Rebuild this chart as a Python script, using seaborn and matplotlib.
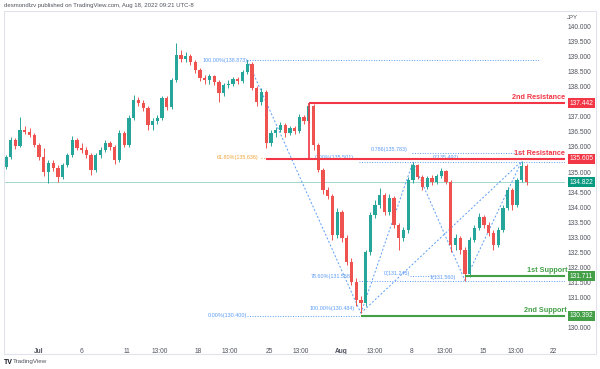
import numpy as np
import pandas as pd
import matplotlib
matplotlib.use("Agg")
import matplotlib.pyplot as plt
import seaborn as sns
from matplotlib.transforms import blended_transform_factory
from matplotlib.patches import Rectangle

# ---------------- data (USD/JPY) ----------------
first_open = 135.33
close = [135.66, 136.23, 136.03, 136.56, 136.49, 136.39, 136.06, 135.66, 135.16, 135.46,
         135.30, 135.00, 135.40, 135.73, 136.23, 135.96, 135.89, 135.73, 135.23, 135.73,
         135.89, 136.13, 135.99, 135.56, 136.46, 136.06, 136.95, 137.55, 137.45, 137.29,
         136.72, 136.85, 136.95, 137.62, 137.32, 138.21, 139.04, 138.91, 139.01, 138.81,
         138.55, 138.28, 138.21, 138.35, 138.15, 137.78, 138.05, 138.08, 138.25, 138.18,
         138.48, 138.74, 137.95, 137.48, 137.82, 136.13, 136.46, 136.56, 136.72, 136.46,
         136.62, 136.52, 136.99, 136.85, 137.35, 136.06, 135.23, 134.57, 134.37, 133.08,
         133.84, 132.98, 132.18, 131.52, 130.92, 130.82, 132.51, 133.74, 134.07, 134.40,
         133.84, 134.30, 133.41, 132.98, 133.24, 134.90, 135.40, 135.00, 134.67, 134.97,
         134.83, 135.03, 135.20, 134.83, 132.74, 132.98, 132.58, 131.78, 132.91, 133.31,
         133.67, 133.41, 133.14, 132.74, 133.24, 133.97, 134.57, 134.07, 134.90, 135.36,
         134.822]
high = [135.73, 136.32, 136.29, 136.99, 136.69, 136.62, 136.46, 136.13, 135.96, 135.56,
        135.56, 135.40, 135.46, 135.79, 136.36, 136.29, 136.13, 135.99, 135.79, 135.79,
        135.99, 136.23, 136.19, 136.06, 136.56, 136.52, 137.05, 137.72, 137.65, 137.55,
        137.35, 136.95, 137.05, 137.68, 137.68, 138.28, 139.44, 139.21, 139.14, 139.08,
        138.88, 138.61, 138.38, 138.41, 138.38, 138.21, 138.11, 138.21, 138.31, 138.31,
        138.55, 138.873, 138.81, 138.01, 137.95, 137.88, 136.56, 136.66, 136.82, 136.79,
        136.69, 136.69, 137.09, 137.05, 137.442, 137.42, 136.13, 135.30, 134.67, 134.43,
        133.97, 133.90, 133.08, 132.31, 131.65, 131.05, 132.58, 133.84, 134.24, 134.63,
        134.47, 134.43, 134.37, 133.47, 133.34, 135.00, 135.497, 135.43, 135.06, 135.03,
        135.06, 135.10, 135.30, 135.23, 134.90, 133.11, 133.04, 132.68, 133.01, 133.41,
        133.80, 133.74, 133.51, 133.24, 133.34, 134.07, 134.67, 134.63, 134.97, 135.53,
        135.43]
low = [135.26, 135.60, 135.93, 135.99, 136.42, 136.32, 135.99, 135.56, 135.03, 134.80,
       135.20, 134.83, 134.93, 135.33, 135.66, 135.89, 135.79, 135.63, 135.06, 135.16,
       135.63, 135.83, 135.89, 135.43, 135.50, 135.99, 135.99, 136.89, 137.35, 137.19,
       136.56, 136.56, 136.76, 136.89, 137.22, 137.25, 138.15, 138.81, 138.81, 138.71,
       138.45, 138.18, 138.08, 138.08, 138.05, 137.48, 137.68, 137.95, 138.01, 138.08,
       138.11, 138.41, 137.88, 137.35, 137.39, 135.96, 136.03, 136.32, 136.49, 136.32,
       136.39, 136.42, 136.46, 136.76, 136.79, 135.89, 135.16, 134.43, 134.27, 132.91,
       132.98, 132.84, 132.08, 131.42, 130.72, 130.484, 130.72, 132.41, 133.64, 133.97,
       133.74, 133.74, 133.31, 132.58, 132.88, 133.14, 134.80, 134.93, 134.57, 134.60,
       134.73, 134.77, 134.97, 134.77, 132.51, 132.58, 132.45, 131.56, 131.68, 132.84,
       133.24, 133.31, 133.04, 132.58, 132.68, 133.18, 133.90, 133.90, 134.00, 134.83,
       134.73]
bars_per_day = 3
first_bar_day = -7 / 3

tick_days = [0, 3.0, 6.2, 8.5, 11.2, 13.45, 16.2, 18.4, 21.25, 23.65, 26.25, 28.6, 31.25, 33.6, 36.2]
tick_labels = ["Jul", "6", "11", "13:00", "18", "13:00", "25", "13:00", "Aug",
               "13:00", "8", "13:00", "15", "13:00", "22"]
price_ticks = [130.0, 131.0, 131.5, 132.0, 132.5, 133.0, 133.5, 134.0, 134.5,
               135.0, 136.0, 136.5, 137.0, 138.0, 138.5, 139.0, 139.5, 140.0]

resistance_names = ["2nd Resistance", "1st Resistance"]
resistance_levels = [137.442, 135.605]
support_names = ["1st Support", "2nd Support"]
support_levels = [131.711, 130.392]
last_price = 134.822

fib1_levels = [138.873, 135.636, 130.400]
fib2_levels = [135.501, 131.558, 130.484]
pattern_levels = [135.783, 135.497, 131.245, 131.560]

# ---------------- style ----------------
sns.set_theme(style="white")
plt.rcParams['font.family'] = ['Liberation Sans', 'DejaVu Sans']

UP = '#26a69a'
DN = '#ef5350'
RED = '#f23645'
GRN = '#43a047'
BLUE = '#5b9cf6'
ORANGE = '#f0a43a'
TEAL = '#089981'

W, H = 600, 369
fig = plt.figure(figsize=(6, 3.69), dpi=100)
fig.patch.set_facecolor('white')

# outer frame
fig.add_artist(Rectangle((4 / W, 1 - 354 / H), 592 / W, 343 / H, transform=fig.transFigure,
                         fill=False, edgecolor='#e0e3eb', lw=0.8))

ax = fig.add_axes([4 / W, 1 - 340 / H, 561 / W, 329 / H])
ax.set_facecolor('none')
for s in ax.spines.values():
    s.set_visible(False)

df = pd.DataFrame({'open': [first_open] + close[:-1], 'close': close, 'high': high, 'low': low})
df['day'] = first_bar_day + np.arange(len(df)) / bars_per_day
df['up'] = df['close'] >= df['open']
df['color'] = np.where(df['up'], UP, DN)

ax.set_xlim(-2.465, 37.04)
ax.set_ylim(129.595, 140.50)

def px2day(p):
    return (p - 39) / 14.2

# current price line
ax.axhline(last_price, color='#9fd8cf', lw=0.7, zorder=1)

# wicks and bodies
ax.vlines(df['day'], df['low'], df['high'], colors=df['color'], lw=0.7, zorder=3)
body_h = np.maximum((df['close'] - df['open']).abs(), 0.02)
ax.bar(df['day'], body_h, bottom=np.minimum(df['open'], df['close']), width=0.23,
       color=df['color'], linewidth=0, zorder=4)

# anchor points from the candle data
A = (df['day'][51], df['high'][51])
B = (df['day'][75], df['low'][75])
C = (df['day'][86], df['high'][86])
D = (df['day'][97], df['low'][97])
E = (df['day'][109], df['high'][109])
right = px2day(565)
dots = (0, (1, 1.6))

trend = pd.DataFrame({
    'day': [A[0], B[0], B[0], C[0], C[0], D[0], D[0], E[0], B[0], E[0]],
    'price': [A[1], B[1], B[1], C[1], C[1], D[1], D[1], E[1], B[1], E[1]],
    'seg': [0, 0, 1, 1, 2, 2, 3, 3, 4, 4]})
for k, g in trend.groupby('seg'):
    sns.lineplot(data=g, x='day', y='price', ax=ax, color=BLUE, lw=0.7,
                 linestyle=(0, (2, 2)), zorder=2, sort=False)

# fib 1
ax.hlines(fib1_levels[0], A[0], px2day(540), colors=BLUE, lw=0.7, linestyles=dots, zorder=2)
ax.hlines(fib1_levels[1], px2day(261), df['day'][64], colors=ORANGE, lw=0.7, linestyles=dots, zorder=2)
ax.hlines(fib1_levels[2], A[0], B[0], colors=BLUE, lw=0.7, linestyles=dots, zorder=2)
fs_small = 3.9
ax.text(px2day(248), fib1_levels[0], "100.00%(138.873)", color=BLUE, fontsize=fs_small, ha='right', va='center')
ax.text(px2day(258), fib1_levels[1], "61.80%(135.636)", color=ORANGE, fontsize=fs_small, ha='right', va='center')
ax.text(px2day(247), fib1_levels[2], "0.00%(130.400)", color=BLUE, fontsize=fs_small, ha='right', va='center')

# fib 2
ax.hlines(fib2_levels[0], B[0] - 0.1, right, colors=BLUE, lw=0.7, linestyles=dots, zorder=2)
ax.hlines(fib2_levels[1], B[0] - 0.1, right, colors=BLUE, lw=0.7, linestyles=dots, zorder=2)
ax.text(px2day(354), fib2_levels[0] + 0.06, "0.00%(135.501)", color=BLUE, fontsize=fs_small, ha='right', va='bottom')
ax.text(px2day(352), fib2_levels[1] + 0.06, "78.60%(131.558)", color=BLUE, fontsize=fs_small, ha='right', va='bottom')
ax.text(px2day(355), fib2_levels[2] + 0.06, "100.00%(130.484)", color=BLUE, fontsize=fs_small, ha='right', va='bottom')

# pattern labels
ax.hlines(pattern_levels[0], px2day(412), px2day(523), colors=BLUE, lw=0.7, linestyles=dots, zorder=2)
ax.text(px2day(408), pattern_levels[0] + 0.06, "0.786(135.783)", color=BLUE, fontsize=fs_small, ha='right', va='bottom')
ax.text(px2day(446), pattern_levels[1] + 0.06, "0(135.497)", color=BLUE, fontsize=fs_small, ha='center', va='bottom')
ax.hlines(131.70, px2day(410), px2day(436), colors=BLUE, lw=0.7, linestyles=dots, zorder=2)
ax.text(px2day(397), 131.80, "0(131.245)", color=BLUE, fontsize=fs_small, ha='center', va='center')
ax.text(px2day(443), 131.66, "1(131.560)", color=BLUE, fontsize=fs_small, ha='center', va='center')

# resistance / support lines
ax.hlines(resistance_levels[0], df['day'][64], right, colors=RED, lw=1.5, zorder=5)
ax.vlines(df['day'][64], resistance_levels[1], resistance_levels[0], colors=RED, lw=1.2, zorder=5)
ax.hlines(resistance_levels[1], df['day'][55], right, colors=RED, lw=1.5, zorder=5)
ax.hlines(support_levels[0], D[0], right, colors=GRN, lw=1.5, zorder=5)
ax.hlines(support_levels[1], B[0], right, colors=GRN, lw=1.5, zorder=5)

fs_lab = 5.2
for name, lev in zip(resistance_names, resistance_levels):
    ax.text(right, lev + 0.07, name, color=RED, fontsize=fs_lab, fontweight='bold', ha='right', va='bottom', zorder=6)
for name, lev in zip(support_names, support_levels):
    ax.text(px2day(567), lev + 0.07, name, color=GRN, fontsize=fs_lab, fontweight='bold', ha='right', va='bottom', zorder=6)

# axes ticks
ax.yaxis.tick_right()
ax.set_yticks(price_ticks)
ax.set_yticklabels([f"{p:.3f}" for p in price_ticks])
ax.tick_params(axis='y', length=0, pad=1.5, labelsize=4.8, labelcolor='#50535e')
ax.set_xticks(tick_days)
ax.set_xticklabels(tick_labels)
ax.tick_params(axis='x', length=0, pad=5.5, labelsize=4.8, labelcolor='#50535e')
for t in ax.get_xticklabels():
    if t.get_text() in ("Jul", "Aug"):
        t.set_fontweight('bold')
for t in ax.get_yticklabels():
    if t.get_text() == "135.000":
        t.set_va('bottom')
ax.set_xlabel("")
ax.set_ylabel("")
ax.grid(False)

# price boxes
tr = blended_transform_factory(ax.transAxes, ax.transData)
xb = (581.5 - 4) / 561
for lev, col in [(resistance_levels[0], RED), (resistance_levels[1], RED),
                 (last_price, TEAL), (support_levels[0], GRN), (support_levels[1], GRN)]:
    ax.text(xb, lev, f"{lev:.3f}", transform=tr, fontsize=4.8, color='white', ha='center', va='center',
            bbox=dict(boxstyle='square,pad=0.25', fc=col, ec='none'), clip_on=False, zorder=7)

ax.text(1.004, 1.0 - 4 / 329, "JPY", transform=ax.transAxes, fontsize=4.3, color='#50535e', ha='left', va='top')

fig.text(4 / W, 1 - 5 / H, "desmondlzv published on TradingView.com, Aug 18, 2022 09:21 UTC-8",
         fontsize=4.3, color='#50535e', ha='left', va='center')
fig.text(4 / W, 1 - 362 / H, "TV", fontsize=5, fontweight='bold', color='#131722', ha='left', va='center')
fig.text(13 / W, 1 - 362 / H, "TradingView", fontsize=4.5, color='#50535e', ha='left', va='center')

fig.savefig("out.png", dpi=100, facecolor='white')
